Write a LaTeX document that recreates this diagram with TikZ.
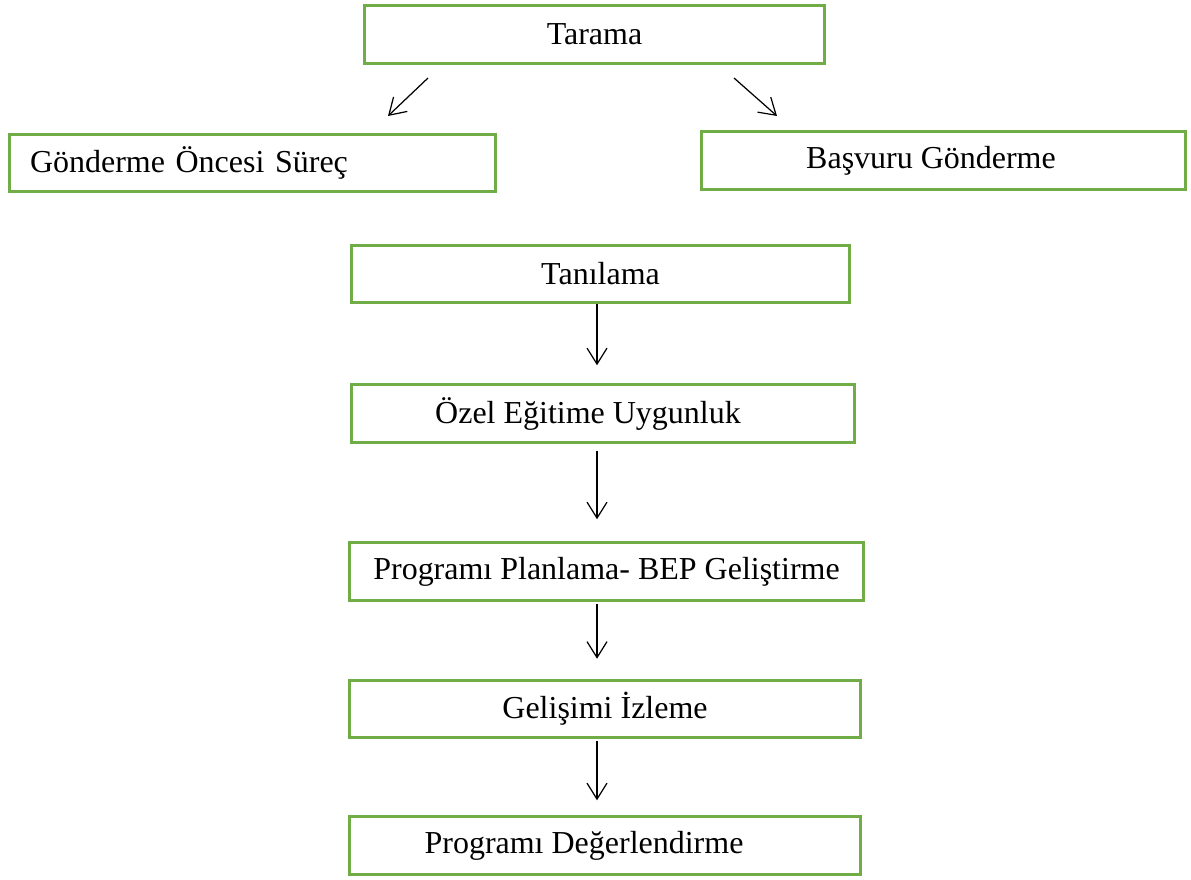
\documentclass[tikz,border=0pt]{standalone}
\usepackage{fontspec}
\setmainfont{Liberation Serif}
\usetikzlibrary{arrows.meta,calc}
\definecolor{boxgreen}{HTML}{70AD47}
\tikzset{>={Straight Barb[length=3.2mm,width=4mm]},
  every node/.style={font=\fontsize{18.2}{22}\selectfont},
  stage/.style={draw=boxgreen,line width=1.7pt,fill=white,minimum height=1.15cm,inner sep=0pt},
  flow/.style={->,line width=.7pt}}

\begin{document}
\begin{tikzpicture}
\useasboundingbox(0,0)rectangle(23.82,-17.58);
% top row
\node[stage,minimum width=9.2cm](tarama)at(11.89,-.69){Tarama};
\node[stage,minimum width=9.72cm,text width=8.9cm,align=left](gonderme)at(5.05,-3.26){Gönderme Öncesi Süreç};
\node[stage,minimum width=9.68cm](basvuru)at(18.87,-3.21){Başvuru Gönderme\hspace*{.5cm}};
\coordinate(l1)at(8.56,-1.56);\coordinate(l2)at(7.76,-2.32);
\coordinate(r1)at(14.68,-1.56);\coordinate(r2)at(15.54,-2.32);
\draw[flow](l1)--(l2);\draw[flow](r1)--(r2);
% main column
\node[stage,minimum width=9.96cm](tanilama)at(12.01,-5.48){Tanılama};
\node[stage,minimum width=10.06cm](ozel)at(12.06,-8.27){Özel Eğitime Uygunluk\hspace*{.6cm}};
\node[stage,minimum width=10.28cm](planlama)at(12.13,-11.43){Programı Planlama- BEP Geliştirme};
\node[stage,minimum width=10.22cm](gelisimi)at(12.10,-14.18){Gelişimi İzleme};
\node[stage,minimum width=10.22cm](degerlendirme)at(12.10,-16.91){Programı Değerlendirme\hspace*{.84cm}};
\coordinate(col)at(11.94,0);
\draw[flow](tanilama.south-|col)--(ozel.north-|col)[shorten >=.36cm];
\draw[flow,shorten <=.14cm,shorten >=.44cm](ozel.south-|col)--(planlama.north-|col);
\draw[flow,shorten <=.04cm,shorten >=.4cm](planlama.south-|col)--(gelisimi.north-|col);
\draw[flow,shorten <=.04cm,shorten >=.3cm](gelisimi.south-|col)--(degerlendirme.north-|col);
\end{tikzpicture}
\end{document}
